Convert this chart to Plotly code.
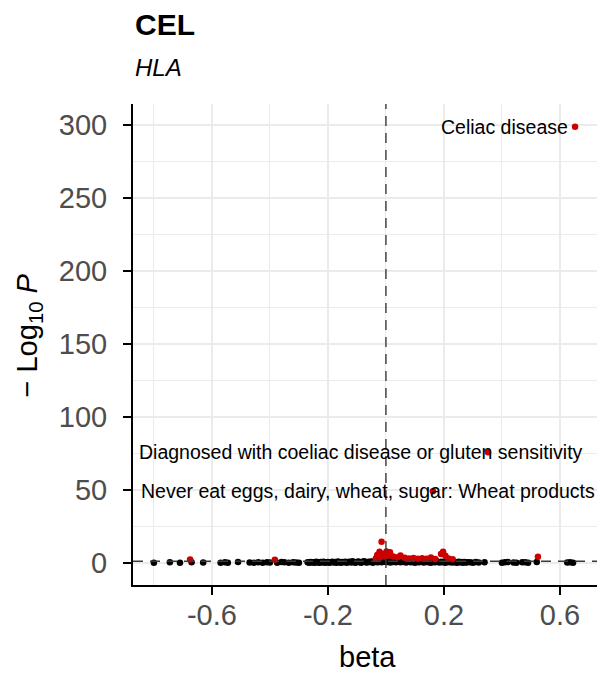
import plotly.graph_objects as go

# ---------------- data ----------------
ns_beta = [
    -0.80, -0.745, -0.71, -0.67, -0.63, -0.57, -0.555, -0.545, -0.51,
    -0.47, -0.455, -0.44, -0.425, -0.41, -0.40, -0.375, -0.36, -0.35,
    -0.335, -0.32, -0.31, -0.30,
    -0.27, -0.265, -0.26, -0.255, -0.25, -0.245, -0.24, -0.235, -0.23,
    -0.225, -0.22, -0.215, -0.21, -0.205, -0.20, -0.195, -0.19, -0.185,
    -0.18, -0.175, -0.17, -0.165, -0.16, -0.155, -0.15, -0.145, -0.14,
    -0.135, -0.13, -0.125, -0.12, -0.115, -0.11, -0.105, -0.10, -0.095,
    -0.09, -0.085, -0.08, -0.075, -0.07, -0.065, -0.06, -0.055, -0.05,
    -0.045, -0.04, -0.035, -0.03, -0.025, -0.02, -0.015, -0.01, -0.005,
    0.0, 0.005, 0.01, 0.015, 0.02, 0.025, 0.03, 0.035, 0.04, 0.045,
    0.05, 0.055, 0.06, 0.065, 0.07, 0.075, 0.08, 0.085, 0.09, 0.095,
    0.10, 0.105, 0.11, 0.115, 0.12, 0.125, 0.13, 0.135, 0.14, 0.145,
    0.15, 0.155, 0.16, 0.165, 0.17, 0.175, 0.18, 0.185, 0.19, 0.195,
    0.20, 0.205, 0.21, 0.215, 0.22, 0.225, 0.23, 0.235, 0.24, 0.245,
    0.25, 0.255, 0.26, 0.265, 0.27, 0.275, 0.28, 0.29, 0.30, 0.31, 0.32,
    0.34, 0.40, 0.41, 0.42, 0.44, 0.45, 0.47, 0.48, 0.49, 0.52,
    0.625, 0.635, 0.645,
]
ns_logp = [
    0.3, 0.5, 0.2, 0.6, 0.4, 0.3, 0.5, 0.2, 0.7,
    0.4, 0.3, 0.6, 0.2, 0.5, 0.4, 0.3, 0.7, 0.5,
    0.2, 0.6, 0.4, 0.3,
    0.5, 0.2, 0.8, 0.4, 0.6, 0.3, 0.9, 0.5, 0.2,
    0.7, 0.4, 1.0, 0.3, 0.6, 0.8, 0.2, 0.5, 0.9,
    0.4, 0.7, 0.3, 1.1, 0.6, 0.2, 0.8, 0.5, 1.0,
    0.3, 0.7, 0.9, 0.4, 1.2, 0.6, 0.2, 0.8, 1.1,
    0.5, 0.3, 0.9, 1.2, 0.6, 0.4, 1.0, 0.7, 1.1,
    0.3, 0.9, 1.2, 0.5, 0.8, 1.0, 0.6, 1.2, 0.9,
    1.1, 0.7, 1.2, 0.4, 1.0, 0.8, 1.1, 0.6, 0.9, 1.2,
    0.5, 1.0, 0.7, 1.1, 0.4, 0.9, 1.2, 0.6, 0.8, 1.0,
    0.3, 1.1, 0.7, 0.5, 1.2, 0.9, 0.4, 0.8, 1.0, 0.6,
    1.1, 0.3, 0.9, 0.7, 0.5, 1.2, 0.8, 0.4, 1.0, 0.6,
    0.9, 0.3, 0.7, 1.1, 0.5, 0.8, 0.4, 1.0, 0.6, 0.2,
    0.9, 0.5, 0.7, 0.3, 0.8, 0.4, 0.6, 0.5, 0.3, 0.7, 0.4,
    0.6, 0.3, 0.5, 0.7, 0.4, 0.2, 0.6, 0.5, 0.3, 0.8,
    0.4, 0.6, 0.3,
]

sig_beta = [
    -0.675, -0.383, -0.015, -0.03, -0.022, -0.012, -0.005, -0.035, -0.02,
    0.002, 0.014, 0.008, 0.025, 0.04, 0.05, 0.065, 0.08, 0.095, 0.11,
    0.125, 0.14, 0.155, 0.17, 0.19, 0.197, 0.205, 0.215, 0.23, 0.524,
    0.352, 0.162, 0.652,
]
sig_logp = [
    2.4, 2.3, 14.6, 5.5, 7.8, 6.2, 4.5, 3.2, 3.8,
    8.0, 7.4, 5.0, 4.6, 4.0, 5.2, 3.6, 3.2, 3.5, 2.9,
    3.4, 3.0, 3.8, 2.8, 6.2, 7.8, 5.0, 3.2, 2.6, 4.4,
    75.9, 49.2, 299.0,
]

label_text = [
    "Diagnosed with coeliac disease or gluten sensitivity",
    "Never eat eggs, dairy, wheat, sugar: Wheat products",
    "Celiac disease",
]
label_idx = [29, 30, 31]   # indices into sig_* arrays
label_shift = [-127, -65, -5]
label_anchor = ["center", "center", "right"]

p_threshold = 1.3
title_text = "CEL"
subtitle_text = "HLA"
x_title = "beta"
y_title = "\u2212 Log<sub>10</sub> <i>P</i>"

x_tickvals = [-0.6, -0.2, 0.2, 0.6]
y_tickvals = [0, 50, 100, 150, 200, 250, 300]

# ---------------- figure ----------------
FONT = "Liberation Sans, Arial, sans-serif"
RED = "#CD0000"

fig = go.Figure()
fig.add_trace(go.Scatter(
    x=ns_beta, y=ns_logp, mode="markers",
    marker=dict(color="black", size=6.5, line=dict(width=0)),
    showlegend=False, hoverinfo="x+y",
))
fig.add_trace(go.Scatter(
    x=sig_beta, y=sig_logp, mode="markers",
    marker=dict(color=RED, size=6.5, line=dict(width=0)),
    showlegend=False, hoverinfo="x+y",
))

fig.add_vline(x=0, line=dict(color="#3A3A3A", width=1.4, dash="10px,7px"))
fig.add_hline(y=p_threshold, line=dict(color="#3A3A3A", width=1.4, dash="10px,7px"))

for txt, i, sh, anc in zip(label_text, label_idx, label_shift, label_anchor):
    fig.add_annotation(
        x=sig_beta[i], y=sig_logp[i], text=txt, showarrow=False,
        xanchor=anc, yanchor="middle", xshift=sh,
        font=dict(family=FONT, size=19.5, color="black"),
    )

# title / subtitle
fig.add_annotation(
    xref="paper", yref="paper", x=0, y=1, xanchor="left", yanchor="middle",
    yshift=80, height=30, valign="middle",
    text="<b>" + title_text + "</b>", showarrow=False,
    font=dict(family=FONT, size=30, color="black"),
)
fig.add_annotation(
    xref="paper", yref="paper", x=0, y=1, xanchor="left", yanchor="middle",
    yshift=37, text="<i>" + subtitle_text + "</i>", showarrow=False,
    font=dict(family=FONT, size=24, color="black"),
)
# axis titles
fig.add_annotation(
    xref="paper", yref="paper", x=0, y=0.5, xanchor="center", yanchor="middle",
    xshift=-105, yshift=9, textangle=-90, text=y_title, showarrow=False,
    font=dict(family=FONT, size=29, color="black"),
)
fig.add_annotation(
    xref="paper", yref="paper", x=0.5, y=0, xanchor="center", yanchor="middle",
    xshift=1, yshift=-72, text=x_title,
    showarrow=False, font=dict(family=FONT, size=29, color="black"),
)

grid = "#EBEBEB"
fig.update_layout(
    width=597, height=667,
    margin=dict(l=125, r=5, t=96, b=90),
    plot_bgcolor="white", paper_bgcolor="white",
    font=dict(family=FONT),
    xaxis=dict(
        range=[-0.872, 0.738], tickvals=x_tickvals,
        ticktext=[f"{v:g}" for v in x_tickvals],
        automargin=False,
        showgrid=True, gridcolor=grid, gridwidth=1.6,
        minor=dict(tickvals=[-0.8, -0.4, 0, 0.4], showgrid=True,
                   gridcolor=grid, gridwidth=0.8, ticks=""),
        zeroline=False, showline=True, linecolor="black", linewidth=2,
        ticks="outside", ticklen=8, tickwidth=2, tickcolor="black",
        ticklabelstandoff=-5,
        tickfont=dict(family=FONT, size=29, color="#4D4D4D"),
    ),
    yaxis=dict(
        range=[-15, 314.5], tickvals=y_tickvals,
        automargin=False,
        showgrid=True, gridcolor=grid, gridwidth=1.6,
        minor=dict(tickvals=[25, 75, 125, 175, 225, 275], showgrid=True,
                   gridcolor=grid, gridwidth=0.8, ticks=""),
        zeroline=False, showline=True, linecolor="black", linewidth=2,
        ticks="outside", ticklen=8, tickwidth=2, tickcolor="black",
        ticklabelstandoff=10,
        tickfont=dict(family=FONT, size=29, color="#4D4D4D"),
    ),
)

fig.write_html("out.html")
